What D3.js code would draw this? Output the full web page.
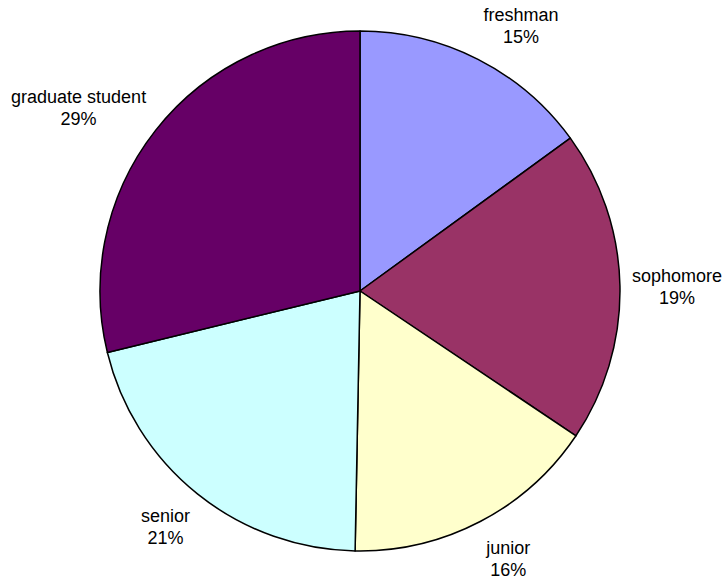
<!DOCTYPE html>
<html>
  <head>
    <meta charset="utf-8">
    <title>Students by class</title>
    <script src="https://d3js.org/d3.v7.min.js"></script>
    <style>
      body { margin: 0; background: #fff; }
      text { font-family: "Liberation Sans", Arial, sans-serif; font-size: 18px; fill: #000; }
    </style>
  </head>
  <body>
    <script>
    // data
    var categories = ["freshman", "sophomore", "junior", "senior", "graduate student"]
    var shares = [15.0, 19.4, 15.9, 20.9, 28.8]
    var colors = ["#9999ff", "#993366", "#ffffcc", "#ccffff", "#660066"]

    var width = 726,
        height = 583,
        cx = 360,
        cy = 291,
        radius = 260

    var svg = d3.select("body").append("svg")
                .attr("width", width)
                .attr("height", height)

    var pie = d3.pie().sort(null).value(function(d) { return d })
    var arcs = pie(shares)
    var total = d3.sum(shares)

    var arc = d3.arc().innerRadius(0).outerRadius(radius)

    var g = svg.append("g").attr("transform", "translate(" + cx + "," + cy + ")")

    g.selectAll("path")
      .data(arcs)
      .enter()
      .append("path")
      .attr("d", arc)
      .attr("fill", function(d, i) { return colors[i] })
      .attr("stroke", "#000")
      .attr("stroke-width", 1.5)
      .attr("stroke-linejoin", "round")

    // labels sit just outside the rim, pushed away by half their box
    var lineH = 22
    var labels = g.selectAll(".lbl")
      .data(arcs)
      .enter()
      .append("text")
      .attr("class", "lbl")
      .attr("text-anchor", "middle")

    labels.append("tspan")
      .attr("x", 0)
      .attr("dy", 0)
      .text(function(d, i) { return categories[i] })
    labels.append("tspan")
      .attr("x", 0)
      .attr("dy", lineH)
      .text(function(d) { return Math.round(d.value / total * 100) + "%" })

    labels.each(function(d) {
      var a = (d.startAngle + d.endAngle) / 2
      var s = Math.sin(a), c = Math.cos(a)
      var r = radius + 12
      var w = this.getBBox().width
      var h = lineH * 2
      var x = r * s + Math.sign(s) * w / 2 * Math.min(1, Math.abs(s) * 3)
      var y = -r * c - c * h / 2 * 1.25 + 3
      d3.select(this).attr("transform", "translate(" + x + "," + (y - h / 2 + 16) + ")")
    })
    </script>
  </body>
</html>
